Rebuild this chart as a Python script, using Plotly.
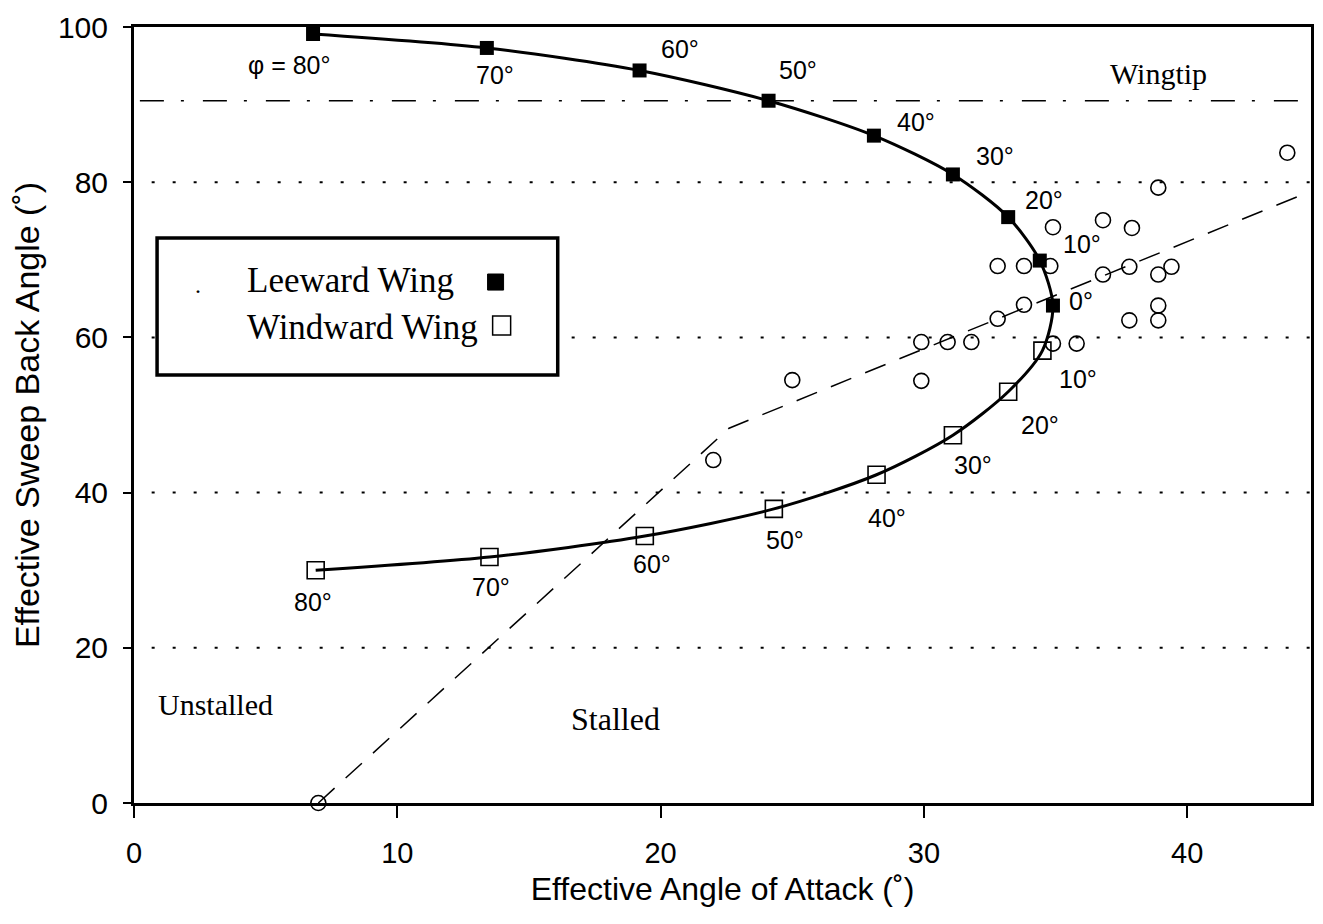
import plotly.graph_objects as go

# ---------------- data ----------------
leeward_phi = [80, 70, 60, 50, 40, 30, 20, 10, 0]
leeward_aoa = [6.8, 13.4, 19.2, 24.1, 28.1, 31.1, 33.2, 34.4, 34.9]
leeward_sweep = [99.1, 97.3, 94.4, 90.5, 86.0, 81.0, 75.5, 69.9, 64.1]

windward_phi = [10, 20, 30, 40, 50, 60, 70, 80]
windward_aoa = [34.5, 33.2, 31.1, 28.2, 24.3, 19.4, 13.5, 6.9]
windward_sweep = [58.3, 53.0, 47.4, 42.3, 37.9, 34.4, 31.7, 30.0]

stall_aoa = [7.0, 22.0, 25.0, 29.9, 29.9, 30.9, 31.8, 34.9, 35.8, 32.8, 33.8,
             32.8, 33.8, 34.8, 34.9, 36.8, 37.9, 36.8, 37.8, 38.9, 39.4, 37.8,
             38.9, 38.9, 38.9, 43.8]
stall_sweep = [0.0, 44.2, 54.5, 54.4, 59.4, 59.4, 59.4, 59.2, 59.2, 62.4, 64.2,
               69.2, 69.2, 69.2, 74.2, 75.1, 74.1, 68.1, 69.1, 68.1, 69.1, 62.2,
               64.1, 62.2, 79.3, 83.8]

boundary_aoa = [7.0, 22.6, 44.6]
boundary_sweep = [0.0, 48.3, 78.7]

reference_levels = [20, 40, 60, 80]
wingtip_level = 90.5

x_ticks = [0, 10, 20, 30, 40]
y_ticks = [0, 20, 40, 60, 80, 100]

# label offsets (pixels) for the phi annotations
leeward_label_dx = [-24, 8, 40, 29, 42, 42, 36, 42, 28]
leeward_label_dy = [-31, -27, 21, 31, 14, 18, 17, 17, 5]
windward_label_dx = [36, 32, 20, 10, 11, 7, 2, -3]
windward_label_dy = [-28, -33, -30, -43, -31, -28, -30, -32]

SANS = "Liberation Sans, Arial, sans-serif"
SERIF = "Liberation Serif, Times New Roman, serif"

fig = go.Figure()

# reference horizontal lines
shapes = []
for lv in reference_levels:
    shapes.append(dict(type="line", xref="paper", yref="y", x0=0.015, x1=1, y0=lv, y1=lv,
                       line=dict(color="black", width=2, dash="3px,18px"), layer="below"))
shapes.append(dict(type="line", xref="paper", yref="y", x0=0.005, x1=1, y0=wingtip_level, y1=wingtip_level,
                   line=dict(color="black", width=1.6, dash="24px,17px,3px,19px"), layer="below"))

# stall boundary
fig.add_trace(go.Scatter(x=boundary_aoa, y=boundary_sweep, mode="lines",
                         line=dict(color="black", width=1.5, dash="22px,15px"),
                         showlegend=False, hoverinfo="skip"))

# curve through leeward + windward points
curve_x = leeward_aoa + windward_aoa
curve_y = leeward_sweep + windward_sweep
fig.add_trace(go.Scatter(x=curve_x, y=curve_y, mode="lines",
                         line=dict(color="black", width=3, shape="spline", smoothing=0.8),
                         showlegend=False, hoverinfo="skip"))

# stall observation circles
fig.add_trace(go.Scatter(x=stall_aoa, y=stall_sweep, mode="markers",
                         marker=dict(symbol="circle-open", size=15, color="black",
                                     line=dict(width=1.6, color="black")),
                         cliponaxis=False, showlegend=False))

# leeward filled squares
fig.add_trace(go.Scatter(x=leeward_aoa, y=leeward_sweep, mode="markers",
                         marker=dict(symbol="square", size=14, color="black"),
                         cliponaxis=False, name="Leeward Wing", showlegend=False))
# windward open squares
fig.add_trace(go.Scatter(x=windward_aoa, y=windward_sweep, mode="markers",
                         marker=dict(symbol="square-open", size=17, color="black",
                                     line=dict(width=1.6, color="black")),
                         cliponaxis=False, name="Windward Wing", showlegend=False))

annotations = []
for phi, x, y, dx, dy in zip(leeward_phi, leeward_aoa, leeward_sweep, leeward_label_dx, leeward_label_dy):
    txt = "\u03c6 = %d\u00b0" % phi if phi == 80 else "%d\u00b0" % phi
    annotations.append(dict(x=x, y=y, xref="x", yref="y", text=txt, showarrow=False,
                            xshift=dx, yshift=dy, font=dict(family=SANS, size=25, color="black")))
for phi, x, y, dx, dy in zip(windward_phi, windward_aoa, windward_sweep, windward_label_dx, windward_label_dy):
    annotations.append(dict(x=x, y=y, xref="x", yref="y", text="%d\u00b0" % phi, showarrow=False,
                            xshift=dx, yshift=dy, font=dict(family=SANS, size=25, color="black")))

# region labels
annotations += [
    dict(x=38.9, y=94.0, xref="x", yref="y", text="Wingtip", showarrow=False,
         font=dict(family=SERIF, size=30, color="black")),
    dict(x=3.1, y=12.7, xref="x", yref="y", text="Unstalled", showarrow=False,
         font=dict(family=SERIF, size=30, color="black")),
    dict(x=18.3, y=10.8, xref="x", yref="y", text="Stalled", showarrow=False,
         font=dict(family=SERIF, size=32, color="black")),
]

# custom legend box (paper coordinates)
shapes.append(dict(type="rect", xref="paper", yref="paper", x0=0.0196, x1=0.3600, y0=0.5515, y1=0.7281,
                   line=dict(color="black", width=3.5), fillcolor="white", layer="above"))
shapes.append(dict(type="rect", xref="paper", yref="paper", x0=0.3004, x1=0.3140, y0=0.6610, y1=0.6817,
                   line=dict(color="black", width=1), fillcolor="black", layer="above"))
shapes.append(dict(type="rect", xref="paper", yref="paper", x0=0.3047, x1=0.3200, y0=0.6031, y1=0.6276,
                   line=dict(color="black", width=1.5), fillcolor="white", layer="above"))
annotations += [
    dict(x=0.0945, y=0.6727, xref="paper", yref="paper", xanchor="left", yanchor="middle",
         text="Leeward Wing", showarrow=False, font=dict(family=SERIF, size=35, color="black")),
    dict(x=0.0945, y=0.6134, xref="paper", yref="paper", xanchor="left", yanchor="middle",
         text="Windward Wing", showarrow=False, font=dict(family=SERIF, size=35, color="black")),
    dict(x=0.054, y=0.667, xref="paper", yref="paper", xanchor="center", yanchor="middle",
         text=".", showarrow=False, font=dict(family=SERIF, size=24, color="black")),
]

# the page body adds an 8px offset, so the figure is sized to fit the window
fig.update_layout(
    width=1315, height=916,
    margin=dict(l=126, r=12, t=19, b=121),
    paper_bgcolor="white", plot_bgcolor="white",
    shapes=shapes, annotations=annotations,
    showlegend=False,
    xaxis=dict(range=[0, 44.7], tickvals=x_ticks, ticks="outside", ticklen=12, tickwidth=1.5,
               tickcolor="black", showline=True, linecolor="black", linewidth=3, mirror=True,
               showgrid=False, zeroline=False, ticklabelstandoff=10, automargin=False,
               ticklabeloverflow="allow",
               tickfont=dict(family=SANS, size=29, color="black"),
               title=dict(text="Effective Angle of Attack (\u02da)", standoff=10,
                          font=dict(family=SANS, size=32, color="black"))),
    yaxis=dict(range=[0, 100], tickvals=y_ticks, ticks="outside", ticklen=8, tickwidth=1.5,
               tickcolor="black", showline=True, linecolor="black", linewidth=3, mirror=True,
               showgrid=False, zeroline=False, ticklabelstandoff=9, automargin=False,
               ticklabeloverflow="allow",
               tickfont=dict(family=SANS, size=30, color="black"),
               title=dict(text="Effective Sweep Back Angle (\u02da)", standoff=24,
                          font=dict(family=SANS, size=34, color="black"))),
)

fig.write_html("out.html")
